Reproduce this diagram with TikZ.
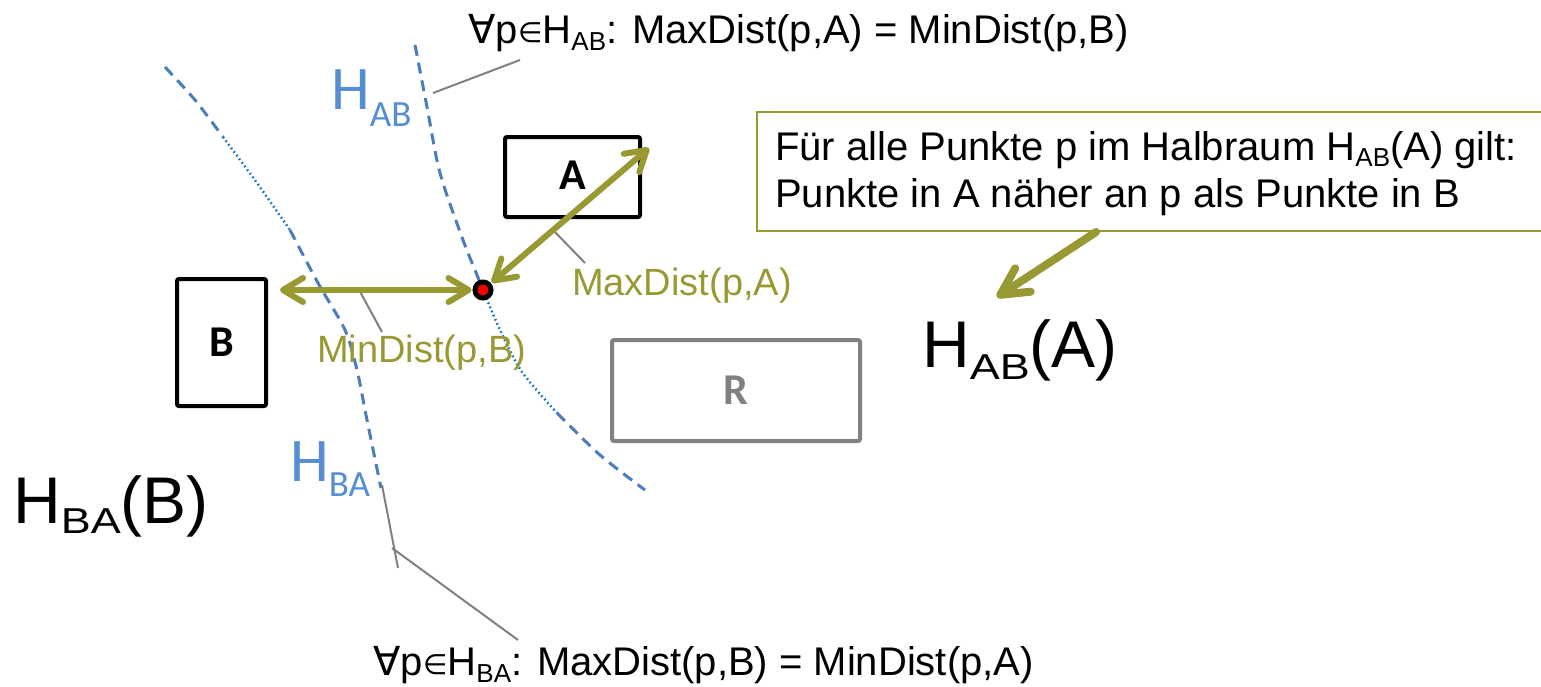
\documentclass[tikz,border=0pt]{standalone}
\usepackage{fontspec}
\usepackage{graphicx}
\setmainfont{Liberation Sans}
\newfontfamily\carlito{Carlito}
\newfontfamily\dejavu{DejaVu Sans}
\usetikzlibrary{arrows.meta,calc}
\definecolor{olv}{RGB}{153,153,51}
\definecolor{dashblue}{RGB}{74,126,187}
\definecolor{dotblue}{RGB}{0,112,192}
\definecolor{lblblue}{RGB}{85,142,213}
\definecolor{gry}{RGB}{128,128,128}
\newcommand\fsz[1]{\fontsize{#1}{#1}\selectfont}
\newcommand\sbx[3]{\raisebox{#1}{\fontsize{#2}{#2}\selectfont #3}}
\newcommand\sbw[4]{\raisebox{#1}{\scalebox{#4}[1]{\fontsize{#2}{#2}\selectfont #3}}}
\newcommand\elem{{\dejavu\fsz{28}\raisebox{1pt}{∈}}}
\newcommand\fall{{\dejavu ∀}}
\begin{document}
\begin{tikzpicture}[x=1pt,y=-1pt,
  boxk/.style={draw=black, line width=4pt, rounded corners=2pt, inner sep=0pt, font=\carlito\bfseries\fsz{44}},
  boxr/.style={draw=gry, line width=4pt, rounded corners=2pt, inner sep=0pt, text=gry, font=\carlito\bfseries\fsz{44}},
  notebox/.style={draw=olv, line width=2pt, inner sep=0pt},
  txt/.style={inner sep=0pt, anchor=base west},
  hdash/.style={draw=dashblue, line width=3pt, dash pattern=on 11pt off 7pt},
  hdot/.style={draw=dotblue, line width=2.5pt, dash pattern=on 1.5pt off 3pt},
  leader/.style={draw=gry, line width=2pt},
  darr/.style={draw=olv, line width=6pt, line cap=round, {Straight Barb[length=20pt,width=24pt,round]}-{Straight Barb[length=20pt,width=24pt,round]}},
  sarr/.style={draw=olv, line width=8pt, line cap=round, -{Straight Barb[length=27pt,width=28pt,round]}},
  blue lbl/.style={txt, text=lblblue, font=\carlito\fsz{62}},
  olive lbl/.style={txt, text=olv, font=\fsz{38}},
]
\useasboundingbox (0,0) rectangle (1541,686);
\clip (0,0) rectangle (1541,686);

% half-space boundary curves
\draw[hdash] plot[smooth] coordinates {(415,45) (427,107) (440,173) (463,240) (475,270) (483,290)};
\draw[hdot] plot[smooth] coordinates {(483,290) (500,330) (522,372) (557,413)};
\draw[hdash] plot[smooth] coordinates {(557,413) (600,455) (645,490)};

\draw[hdash] plot[smooth] coordinates {(165,67) (195,100) (223,137)};
\draw[hdot] plot[smooth] coordinates {(223,137) (257,183) (290,230)};
\draw[hdash] plot[smooth] coordinates {(290,230) (318,283) (345,330) (357,370) (367,420) (381,488)};

% rectangles
\node[boxk, minimum width=135pt, minimum height=80pt] (A) at (572.5,177) {\raisebox{3pt}{A}\hspace{10pt}};
\node[boxk, minimum width=89pt, minimum height=127pt] (B) at (221.5,342.5) {B\hspace{4pt}};
\node[boxr, minimum width=248pt, minimum height=101pt] (R) at (736,390.5) {R};

% texts
\node[txt, font=\fsz{40}, anchor=base east] (topf) at (1129,43)
  {\fall p\elem H\sbx{-7pt}{26}{AB}: MaxDist(p,A) = MinDist(p,B)};
\node[txt, font=\fsz{40}, anchor=base east] (botf) at (1034,675)
  {\fall p\elem H\sbx{-7pt}{26}{BA}: MaxDist(p,B) = MinDist(p,A)};

\node[blue lbl] (hab) at (331,109) {H\sbx{-17pt}{37}{AB}};
\node[blue lbl] (hba) at (290,481) {H\sbx{-15pt}{37}{BA}};

\node[txt, font=\fsz{66}] (habA) at (922,367) {H\sbw{-12pt}{36}{AB}{1.25}(A)};
\node[txt, font=\fsz{66}] (hbaB) at (13,523) {H\sbw{-10pt}{36}{BA}{1.25}(B)};

\node[olive lbl] (maxl) at (572,295) {MaxDist(p,A)};
\node[olive lbl] (minl) at (317,362) {MinDist(p,B)};

% note box
\node[notebox, anchor=north west, minimum width=830pt, minimum height=119pt] (note) at (756,111) {};
\node[txt, font=\fsz{40}] (l1) at (775,160) {Für alle Punkte p im Halbraum H\sbx{-6pt}{26}{AB}(A) gilt:};
\node[txt, font=\fsz{40}] (l2) at (775,207) {Punkte in A näher an p als Punkte in B};

% point p
\node[circle, fill=red, draw=black, line width=5pt, minimum size=16pt, inner sep=0pt] (p) at (483,290) {};

% leader lines
\coordinate (habtip) at (433,93);
\coordinate (topft) at (520,60);
\draw[leader] (habtip) -- (topft);
\coordinate (maxs) at (553,230);
\coordinate (maxe) at (585,263);
\draw[leader] (maxs) -- (maxe);
\coordinate (mins) at (358,288);
\coordinate (mine) at (382,332);
\draw[leader] (mins) -- (mine);
\coordinate (hbas) at (382,485);
\coordinate (hbae) at (398,568);
\draw[leader] (hbas) -- (hbae);
\coordinate (botft) at (518,640);
\coordinate (botfe) at (392,548);
\draw[leader] (botft) -- (botfe);

% distance arrows
\coordinate (Acorner) at ($(A.north east)+(7,13)$);
\draw[darr, shorten <=12pt, shorten >=1pt] (B.east |- p) -- (p);
\draw[darr, shorten <=1pt] (p) -- (Acorner);

% note arrow
\coordinate (nstart) at (1096,232);
\coordinate (nend) at (997,297);
\draw[sarr] (nstart) -- (nend);
\end{tikzpicture}
\end{document}
